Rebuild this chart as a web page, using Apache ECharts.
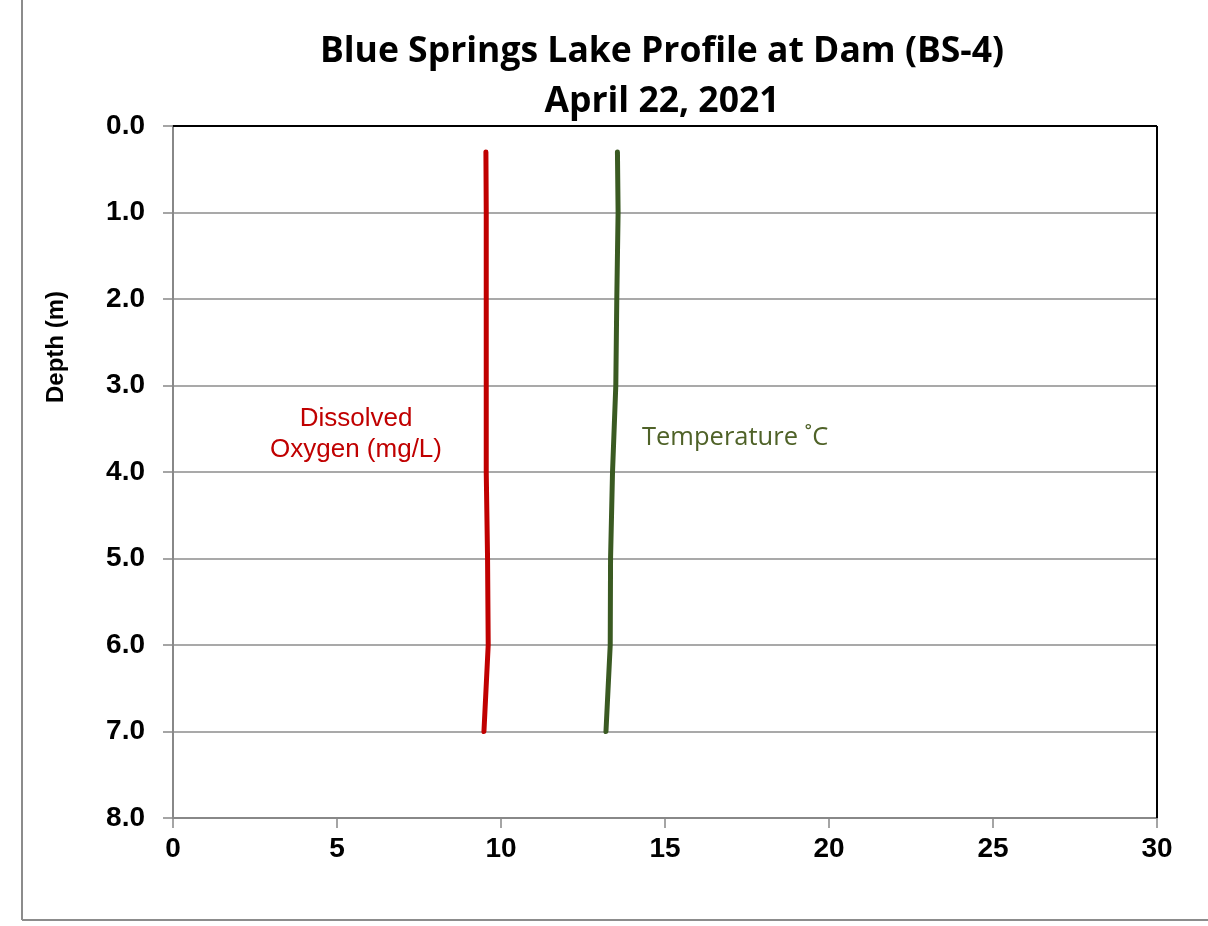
<!DOCTYPE html>
<html>
<head>
<meta charset="utf-8">
<script src="https://cdn.jsdelivr.net/npm/echarts@6/dist/echarts.min.js"></script>
<style>html,body{margin:0;padding:0;background:#fff}#c{width:1208px;height:926px}</style>
</head>
<body>
<div id="c"></div>
<script>
const depths = [0.3, 1, 2, 3, 4, 5, 6, 7];
const dissolvedOxygen = [9.54, 9.55, 9.55, 9.55, 9.55, 9.59, 9.61, 9.48];
const temperature = [13.55, 13.57, 13.53, 13.5, 13.4, 13.34, 13.33, 13.2];
const xTicks = [0, 5, 10, 15, 20, 25, 30];
const yTicks = [0, 1, 2, 3, 4, 5, 6, 7, 8];

const chart = echarts.init(document.getElementById('c'));
chart.setOption({
  animation: false,
  title: {
    text: 'Blue Springs Lake Profile at Dam (BS-4)\nApril 22, 2021',
    left: 657, top: 22, textAlign: 'center',
    textStyle: { fontFamily: 'Open Sans', fontWeight: 'bold', fontSize: 35.5, lineHeight: 50, color: '#000' }
  },
  grid: { left: 173, right: 51, top: 126, bottom: 108, show: false },
  xAxis: {
    type: 'value', min: 0, max: 30, interval: 5, position: 'bottom',
    axisLine: { show: true, onZero: false, lineStyle: { color: '#888', width: 2 } },
    axisTick: { show: true, length: 10, lineStyle: { color: '#888', width: 1.5 } },
    splitLine: { show: false },
    axisLabel: { margin: 17, fontFamily: 'Liberation Sans', fontWeight: 'bold', fontSize: 28, color: '#000',
      formatter: v => xTicks.includes(v) ? String(v) : '' }
  },
  yAxis: {
    type: 'value', inverse: true, min: 0, max: 8, interval: 1,
    axisLine: { show: true, onZero: false, lineStyle: { color: '#888', width: 2 } },
    axisTick: { show: true, length: 10, lineStyle: { color: '#888', width: 1.5 } },
    splitLine: { show: true, lineStyle: { color: '#8c8c8c', width: 1.5 } },
    axisLabel: { margin: 28, fontFamily: 'Liberation Sans', fontWeight: 'bold', fontSize: 28, color: '#000',
      formatter: v => yTicks.includes(v) ? v.toFixed(1) : '' }
  },
  graphic: [
    { type: 'line', shape: { x1: 22, y1: 0, x2: 22, y2: 920 }, style: { stroke: '#8c8c8c', lineWidth: 2 } },
    { type: 'line', shape: { x1: 22, y1: 920, x2: 1208, y2: 920 }, style: { stroke: '#8c8c8c', lineWidth: 2 } },
    { type: 'line', z: 100, shape: { x1: 173, y1: 126, x2: 1157, y2: 126 }, style: { stroke: '#000', lineWidth: 2 } },
    { type: 'line', z: 100, shape: { x1: 1157, y1: 126, x2: 1157, y2: 818 }, style: { stroke: '#000', lineWidth: 2 } },
    { type: 'text', x: 56, y: 347, rotation: Math.PI / 2,
      style: { text: 'Depth (m)', fontFamily: 'Liberation Sans', fontWeight: 'bold', fontSize: 24, fill: '#000',
        textAlign: 'center', textVerticalAlign: 'middle' } },
    { type: 'text', x: 356, y: 434,
      style: { text: 'Dissolved\nOxygen (mg/L)', fontFamily: 'Liberation Sans', fontSize: 26, lineHeight: 31, fill: '#c00000',
        textAlign: 'center', textVerticalAlign: 'middle' } },
    { type: 'text', x: 642, y: 438,
      style: { text: 'Temperature ˚C', fontFamily: 'Open Sans', fontSize: 25.5, fill: '#4f6228',
        textAlign: 'left', textVerticalAlign: 'middle' } }
  ],
  series: [
    { type: 'line', name: 'Dissolved Oxygen', showSymbol: false, symbol: 'none',
      data: depths.map((d, i) => [dissolvedOxygen[i], d]),
      lineStyle: { color: '#c00000', width: 5, cap: 'round', join: 'round' } },
    { type: 'line', name: 'Temperature', showSymbol: false, symbol: 'none',
      data: depths.map((d, i) => [temperature[i], d]),
      lineStyle: { color: '#3a5a22', width: 5, cap: 'round', join: 'round' } }
  ]
});
</script>
</body>
</html>
